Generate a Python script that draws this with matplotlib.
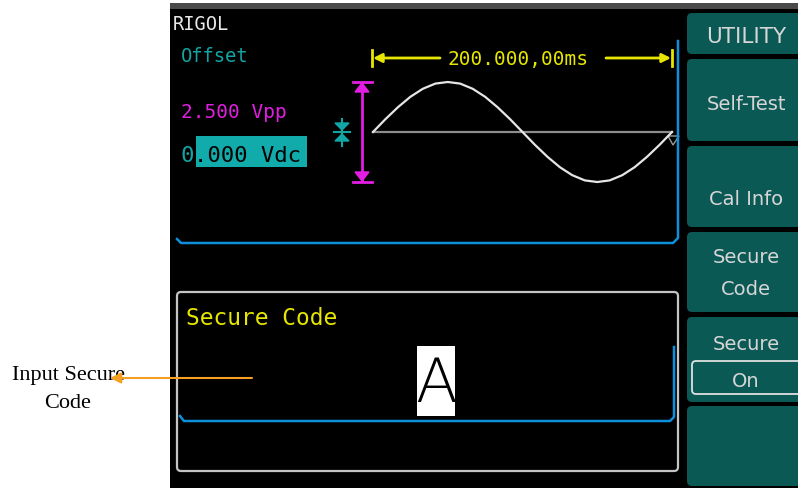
import matplotlib
matplotlib.use("Agg")
import matplotlib.pyplot as plt
from matplotlib.patches import Rectangle, FancyBboxPatch, Polygon

# ---------------- data ----------------
menu_labels = ["UTILITY", "Self-Test", "Cal Info", "Secure\nCode", "Secure", ""]
secure_state = "On"
brand = "RIGOL"
param_name = "Offset"
amplitude_text = "2.500 Vpp"
offset_digit = "0"
offset_rest = ".000 Vdc"
period_text = "200.000,00ms"
dialog_title = "Secure Code"
code_char = "A"
annotation_text = "Input Secure\nCode"

wave_t = [0, 8.3, 16.7, 25, 33.3, 41.7, 50, 58.3, 66.7, 75, 83.3, 91.7, 100,
          108.3, 116.7, 125, 133.3, 141.7, 150, 158.3, 166.7, 175, 183.3, 191.7, 200]
wave_v = [0, 0.32, 0.62, 0.88, 1.08, 1.21, 1.25, 1.21, 1.08, 0.88, 0.62, 0.32, 0,
          -0.32, -0.62, -0.88, -1.08, -1.21, -1.25, -1.21, -1.08, -0.88, -0.62, -0.32, 0]
period_ms = 200
amp_v = 1.25

# ---------------- style ----------------
W, H = 798, 489
TEAL_BTN = "#0b5954"
BTN_TXT = "#d6d6d6"
TEAL = "#12a5a5"
MAGENTA = "#e21ee2"
YELLOW = "#e6e600"
BLUE = "#0e8fdc"
GRAY = "#c4c4c4"
ORANGE = "#f5a022"
MONO = "DejaVu Sans Mono"

fig = plt.figure(figsize=(W / 100, H / 100), dpi=100)
fig.patch.set_facecolor("white")
ax = fig.add_axes([0, 0, 1, 1])
ax.set_xlim(0, W)
ax.set_ylim(H, 0)
ax.axis("off")

# screen
ax.add_patch(Rectangle((170, 10), W - 170, H - 10, facecolor="black", edgecolor="none"))
ax.add_patch(Rectangle((170, 4), W - 170, 6, facecolor="#4a4a4a", edgecolor="none"))

# menu buttons
btn_spans = [(14, 55), (60, 142), (147, 228), (233, 313), (318, 403), (407, 487)]
for (y0, y1), lab in zip(btn_spans, menu_labels):
    ax.add_patch(FancyBboxPatch((687, y0), 130, y1 - y0,
                                boxstyle="round,pad=0,rounding_size=5",
                                facecolor=TEAL_BTN, edgecolor="none"))
btn_text = [("UTILITY", 43, 15.5), ("Self-Test", 110, 14), ("Cal Info", 205, 14),
            ("Secure", 263, 14), ("Code", 295, 14), ("Secure", 350, 14)]
for txt, yb, fs in btn_text:
    ax.text(746, yb, txt, color=BTN_TXT, fontsize=fs, family="DejaVu Sans",
            ha="center", va="baseline")
ax.add_patch(FancyBboxPatch((692, 362), 130, 33,
                            boxstyle="round,pad=0,rounding_size=4",
                            facecolor=TEAL_BTN, edgecolor="#e0e0e0", lw=1.3))
ax.text(746, 387, secure_state, color=BTN_TXT, fontsize=14, family="DejaVu Sans",
        ha="center", va="baseline")

# left readouts
ax.text(173, 30, brand, color="#e8e8e8", fontsize=13.5, family=MONO, va="baseline")
ax.text(181, 62, param_name, color=TEAL, fontsize=13.5, family=MONO, va="baseline")
ax.text(181, 118, amplitude_text, color=MAGENTA, fontsize=14, family=MONO, va="baseline")
ax.add_patch(Rectangle((196, 137), 111, 31, facecolor="#12abab", edgecolor="none"))
ax.text(181, 162, offset_digit, color=TEAL, fontsize=16, family=MONO, va="baseline")
ax.text(194, 162, offset_rest, color="black", fontsize=16, family=MONO, va="baseline")

# top panel blue frame
ax.plot([177, 181, 673, 678, 678], [240, 244, 244, 239, 42], color=BLUE, lw=1.8)

# period marker (yellow)
ax.plot([372, 372], [51, 67], color=YELLOW, lw=2)
ax.plot([672, 672], [51, 67], color=YELLOW, lw=2)
ax.annotate("", xy=(373, 59), xytext=(440, 59),
            arrowprops=dict(arrowstyle="-|>", color=YELLOW, lw=2, mutation_scale=13,
                            shrinkA=0, shrinkB=0))
ax.annotate("", xy=(671, 59), xytext=(606, 59),
            arrowprops=dict(arrowstyle="-|>", color=YELLOW, lw=2, mutation_scale=13,
                            shrinkA=0, shrinkB=0))
ax.text(518, 65, period_text, color=YELLOW, fontsize=14, family=MONO,
        ha="center", va="baseline")

# amplitude marker (magenta)
ax.plot([362, 362], [84, 182], color=MAGENTA, lw=2)
ax.plot([353, 372], [83, 83], color=MAGENTA, lw=2)
ax.plot([353, 372], [183, 183], color=MAGENTA, lw=2)
ax.add_patch(Polygon([(355, 93), (369, 93), (362, 84)], color=MAGENTA))
ax.add_patch(Polygon([(355, 173), (369, 173), (362, 182)], color=MAGENTA))

# offset marker (teal)
ax.plot([342, 342], [120, 147], color=TEAL, lw=1.5)
ax.plot([334, 350], [133, 133], color=TEAL, lw=1.5)
ax.add_patch(Polygon([(335, 124), (349, 124), (342, 131)], color=TEAL))
ax.add_patch(Polygon([(335, 142), (349, 142), (342, 135)], color=TEAL))

# small end marker
ax.add_patch(Polygon([(668, 137), (679, 137), (673, 146)], closed=True,
                     facecolor="none", edgecolor="#9a9a9a", lw=1))

# waveform axes
wax = fig.add_axes([373 / W, 1 - 183 / H, 299 / W, 100 / H])
wax.set_xlim(0, period_ms)
wax.set_ylim(-amp_v, amp_v)
wax.axis("off")
wax.patch.set_alpha(0)
wax.plot([0, period_ms], [0, 0], color="#8c8c8c", lw=1.6, clip_on=False)
wax.plot(wave_t, wave_v, color="#e6e6e6", lw=1.6, clip_on=False)

# secure code dialog
ax.add_patch(FancyBboxPatch((177, 293), 501, 179,
                            boxstyle="round,pad=0,rounding_size=4",
                            facecolor="black", edgecolor=GRAY, lw=1.6))
ax.text(186, 325, dialog_title, color=YELLOW, fontsize=16.5, family=MONO, va="baseline")
ax.plot([180, 184, 670, 674, 674], [417, 422, 422, 418, 348], color=BLUE, lw=1.8)
ax.add_patch(Rectangle((417, 347), 38, 70, facecolor="white", edgecolor="none"))
ax.text(436, 402, code_char, color="black", fontsize=44, family="DejaVu Sans",
        fontweight="ultralight", ha="center", va="baseline")

# annotation
ax.text(68, 380, "Input Secure", color="black", fontsize=16, family="Liberation Serif",
        ha="center", va="baseline")
ax.text(68, 408, "Code", color="black", fontsize=16, family="Liberation Serif",
        ha="center", va="baseline")
ax.annotate("", xy=(110, 379), xytext=(252, 379),
            arrowprops=dict(arrowstyle="-|>", color=ORANGE, lw=1.5, mutation_scale=16,
                            shrinkA=0, shrinkB=0))

fig.savefig("out.png", dpi=100, facecolor="white")
